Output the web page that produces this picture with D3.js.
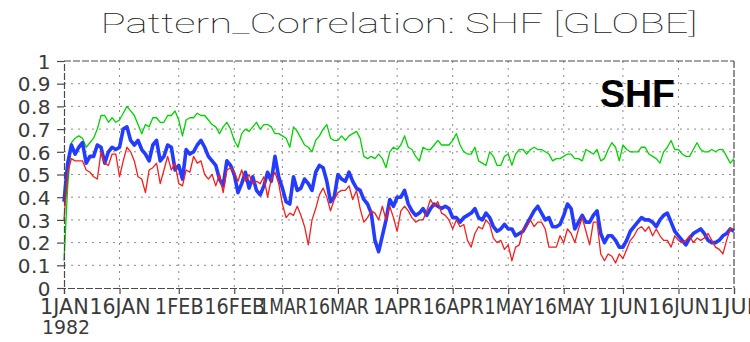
<!DOCTYPE html>
<html>
<head>
<meta charset="utf-8">
<script src="https://cdn.jsdelivr.net/npm/d3@7"></script>
<style>
  html, body { margin: 0; padding: 0; background: #fff; }
  svg { display: block; }
</style>
</head>
<body>
<svg id="chart" width="750" height="342"></svg>
<script>
// Daily pattern correlation of surface heat flux, 1 Jan - 1 Jul 1982
const startDate = new Date(Date.UTC(1982, 0, 1));
const endDate = new Date(Date.UTC(1982, 6, 1));

const greenSeries = [
  0.12,0.45,0.64,0.66,0.67,0.66,0.62,0.64,0.66,0.70,0.76,0.76,0.73,0.75,0.73,0.74,0.77,0.80,0.78,0.76,
  0.72,0.68,0.72,0.71,0.75,0.75,0.73,0.73,0.76,0.76,0.78,0.74,0.67,0.74,0.75,0.75,0.77,0.76,0.76,0.74,
  0.72,0.71,0.68,0.71,0.73,0.70,0.65,0.62,0.68,0.70,0.69,0.71,0.73,0.70,0.72,0.72,0.71,0.68,0.68,0.67,
  0.66,0.62,0.71,0.69,0.66,0.63,0.62,0.60,0.65,0.67,0.70,0.72,0.66,0.65,0.65,0.67,0.65,0.67,0.68,0.69,
  0.66,0.58,0.57,0.58,0.57,0.59,0.57,0.53,0.60,0.62,0.61,0.63,0.67,0.62,0.61,0.58,0.56,0.62,0.61,0.61,
  0.63,0.65,0.63,0.63,0.63,0.65,0.68,0.63,0.60,0.59,0.59,0.62,0.56,0.55,0.54,0.60,0.58,0.54,0.54,0.58,
  0.59,0.54,0.59,0.61,0.61,0.59,0.61,0.62,0.61,0.61,0.60,0.59,0.56,0.57,0.57,0.58,0.59,0.59,0.57,0.57,
  0.56,0.61,0.60,0.59,0.61,0.56,0.57,0.61,0.64,0.62,0.56,0.63,0.61,0.60,0.60,0.60,0.62,0.62,0.59,0.58,
  0.57,0.55,0.60,0.62,0.65,0.61,0.61,0.59,0.58,0.58,0.61,0.64,0.61,0.60,0.60,0.61,0.60,0.61,0.61,0.58,
  0.55,0.57
];

const blueSeries = [
  0.38,0.55,0.63,0.59,0.62,0.64,0.55,0.58,0.58,0.63,0.62,0.55,0.60,0.62,0.61,0.62,0.70,0.71,0.65,0.63,
  0.65,0.61,0.59,0.56,0.63,0.65,0.56,0.58,0.63,0.62,0.52,0.54,0.48,0.61,0.59,0.60,0.63,0.65,0.62,0.58,
  0.56,0.54,0.48,0.45,0.56,0.54,0.50,0.42,0.46,0.51,0.44,0.49,0.43,0.41,0.45,0.51,0.47,0.58,0.49,0.44,
  0.38,0.37,0.49,0.43,0.44,0.48,0.46,0.43,0.51,0.54,0.53,0.47,0.38,0.40,0.50,0.48,0.47,0.51,0.47,0.44,
  0.43,0.39,0.37,0.33,0.21,0.16,0.23,0.30,0.39,0.36,0.40,0.40,0.43,0.37,0.34,0.32,0.33,0.35,0.32,0.35,
  0.37,0.36,0.35,0.36,0.35,0.31,0.31,0.29,0.31,0.32,0.33,0.35,0.31,0.30,0.33,0.31,0.27,0.25,0.26,0.28,
  0.26,0.26,0.23,0.24,0.25,0.28,0.31,0.34,0.36,0.33,0.30,0.31,0.27,0.27,0.28,0.32,0.37,0.35,0.26,0.29,
  0.32,0.29,0.29,0.32,0.34,0.24,0.20,0.23,0.23,0.21,0.18,0.18,0.21,0.25,0.27,0.29,0.31,0.30,0.30,0.29,
  0.27,0.30,0.32,0.33,0.29,0.25,0.23,0.21,0.19,0.22,0.24,0.25,0.26,0.24,0.21,0.20,0.20,0.21,0.23,0.24,
  0.26,0.25
];

const redSeries = [
  0.30,0.51,0.57,0.56,0.56,0.56,0.52,0.51,0.49,0.48,0.60,0.55,0.54,0.59,0.59,0.49,0.56,0.62,0.60,0.56,
  0.49,0.48,0.42,0.52,0.53,0.55,0.46,0.52,0.58,0.52,0.55,0.46,0.45,0.52,0.51,0.58,0.55,0.56,0.50,0.48,
  0.50,0.45,0.50,0.42,0.52,0.53,0.51,0.47,0.52,0.47,0.50,0.46,0.47,0.46,0.49,0.40,0.48,0.51,0.46,0.37,
  0.31,0.33,0.32,0.36,0.32,0.27,0.19,0.30,0.35,0.41,0.44,0.40,0.34,0.39,0.42,0.43,0.43,0.45,0.39,0.43,
  0.35,0.29,0.31,0.34,0.33,0.30,0.36,0.30,0.36,0.31,0.25,0.34,0.36,0.34,0.31,0.29,0.30,0.30,0.34,0.39,
  0.36,0.38,0.33,0.32,0.30,0.26,0.30,0.27,0.28,0.21,0.18,0.24,0.27,0.26,0.30,0.28,0.22,0.20,0.21,0.17,
  0.19,0.12,0.18,0.19,0.26,0.27,0.30,0.27,0.29,0.29,0.26,0.18,0.18,0.18,0.23,0.20,0.26,0.24,0.20,0.26,
  0.31,0.25,0.19,0.29,0.29,0.15,0.12,0.15,0.14,0.11,0.15,0.13,0.17,0.21,0.23,0.26,0.27,0.25,0.27,0.23,
  0.26,0.23,0.21,0.21,0.18,0.23,0.21,0.20,0.21,0.23,0.20,0.22,0.21,0.22,0.24,0.21,0.18,0.17,0.15,0.21,
  0.26,0.26
];

const xTickLabels = ["1JAN","16JAN","1FEB","16FEB","1MAR","16MAR","1APR","16APR","1MAY","16MAY","1JUN","16JUN","1JUL"];
const yTickValues = [0,0.1,0.2,0.3,0.4,0.5,0.6,0.7,0.8,0.9,1];
const yearLabel = "1982";
const titleText = "Pattern_Correlation: SHF [GLOBE]";
const tagText = "SHF";

const svg = d3.select("#chart");
const plotLeft = 64, plotRight = 734, plotTop = 61, plotBottom = 288;

const x = d3.scaleUtc().domain([startDate, endDate]).range([plotLeft, plotRight]);
const y = d3.scaleLinear().domain([0, 1]).range([plotBottom, plotTop]);

// tick dates on the 1st and 16th of each month
const xTickDates = [];
d3.utcMonth.range(startDate, d3.utcMonth.offset(endDate, 1)).forEach(m => {
  xTickDates.push(m);
  xTickDates.push(d3.utcDay.offset(m, 15));
});
const xTicks = xTickDates.filter(d => d <= endDate).slice(0, xTickLabels.length);

const frameColor = "#4a4a4a";
const gridColor = "#8c8c8c";
const labelFont = "'DejaVu Sans', sans-serif";

// grid
const grid = svg.append("g");
grid.selectAll("line.h").data(yTickValues.slice(1, -1)).join("line")
  .attr("class", "h")
  .attr("x1", plotLeft).attr("x2", plotRight)
  .attr("y1", d => y(d)).attr("y2", d => y(d))
  .attr("stroke", gridColor).attr("stroke-width", 1)
  .attr("stroke-dasharray", "2,5");
grid.selectAll("line.v").data(xTicks.slice(1, -1)).join("line")
  .attr("class", "v")
  .attr("x1", d => x(d)).attr("x2", d => x(d))
  .attr("y1", plotTop).attr("y2", plotBottom)
  .attr("stroke", gridColor).attr("stroke-width", 1)
  .attr("stroke-dasharray", "2,5");

// series
const dates = greenSeries.map((_, i) => d3.utcDay.offset(startDate, i));
const line = d3.line().x((d, i) => x(dates[i])).y(d => y(d));

svg.append("path").datum(greenSeries).attr("d", line)
  .attr("fill", "none").attr("stroke", "rgb(0,210,0)").attr("stroke-width", 1.3)
  .attr("stroke-linejoin", "round");
svg.append("path").datum(blueSeries).attr("d", line)
  .attr("fill", "none").attr("stroke", "rgb(35,60,255)").attr("stroke-width", 3.6)
  .attr("stroke-linejoin", "round");
svg.append("path").datum(redSeries).attr("d", line)
  .attr("fill", "none").attr("stroke", "rgb(245,30,30)").attr("stroke-width", 1.3)
  .attr("stroke-linejoin", "round");

// frame
const frame = svg.append("g").attr("stroke", frameColor).attr("stroke-width", 1.2)
  .attr("stroke-dasharray", "7,2").attr("fill", "none");
frame.append("line").attr("x1", plotLeft).attr("x2", plotRight).attr("y1", plotTop).attr("y2", plotTop);
frame.append("line").attr("x1", plotRight).attr("x2", plotRight).attr("y1", plotTop).attr("y2", plotBottom);

// axes
const yAxis = d3.axisLeft(y).tickValues(yTickValues).tickSize(7).tickPadding(6)
  .tickFormat(d => d3.format("~g")(d));
const gy = svg.append("g").attr("transform", `translate(${plotLeft},0)`).call(yAxis);
gy.select(".domain").attr("stroke", frameColor).attr("stroke-width", 1.2).attr("stroke-dasharray", "7,2");
gy.selectAll(".tick line").attr("stroke", frameColor).attr("stroke-width", 1.2);
gy.selectAll(".tick text")
  .attr("font-family", labelFont).attr("font-size", 20)
  .attr("fill", "#3a3a3a").attr("letter-spacing", 0.5).attr("dy", "0.36em");

const xAxis = d3.axisBottom(x).tickValues(xTicks).tickSize(6).tickPadding(6)
  .tickFormat((d, i) => xTickLabels[i]);
const gx = svg.append("g").attr("transform", `translate(0,${plotBottom})`).call(xAxis);
gx.select(".domain").attr("stroke", frameColor).attr("stroke-width", 1.2).attr("stroke-dasharray", "7,2");
gx.selectAll(".tick line").attr("stroke", frameColor).attr("stroke-width", 1.2);
gx.selectAll(".tick text")
  .attr("font-family", labelFont).attr("font-size", 21)
  .attr("fill", "#3a3a3a").attr("dy", "0.68em")
  .attr("textLength", (d, i) => xTickLabels[i].length * 12.2)
  .attr("lengthAdjust", "spacingAndGlyphs");

svg.append("text").attr("x", 42).attr("y", 334)
  .attr("font-family", labelFont).attr("font-size", 20)
  .attr("fill", "#3a3a3a").attr("textLength", 48).attr("lengthAdjust", "spacingAndGlyphs")
  .text(yearLabel);

// title
svg.append("text").attr("x", (plotLeft + plotRight) / 2).attr("y", 33)
  .attr("text-anchor", "middle")
  .attr("font-family", "Roboto, 'DejaVu Sans', sans-serif").attr("font-weight", 100)
  .attr("font-size", 27).attr("fill", "#222")
  .attr("textLength", 597).attr("lengthAdjust", "spacingAndGlyphs")
  .text(titleText);

// variable tag
svg.append("text").attr("x", 600).attr("y", 107)
  .attr("font-family", "'Liberation Sans', Arial, sans-serif").attr("font-weight", "bold")
  .attr("font-size", 38).attr("fill", "#000")
  .attr("textLength", 75).attr("lengthAdjust", "spacingAndGlyphs")
  .text(tagText);
</script>
</body>
</html>
